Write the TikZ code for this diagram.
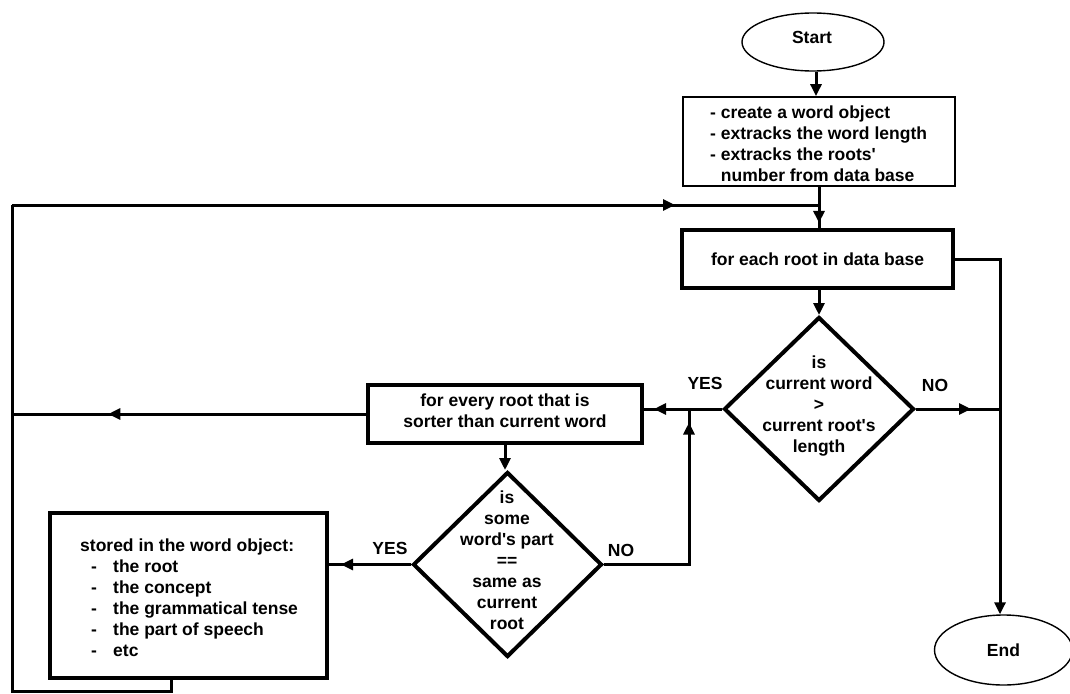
\documentclass[tikz,border=0pt]{standalone}
\usepackage{fontspec}
\setmainfont{Liberation Sans}
\usetikzlibrary{shapes.geometric,arrows.meta,decorations.markings}
\newcommand{\aps}{\textquotesingle}
\begin{document}
\begin{tikzpicture}[x=1pt,y=-1pt,
  every node/.style={font=\fontsize{17.5}{21}\selectfont\bfseries},
  thinbox/.style={draw,line width=1.8pt,inner sep=0pt},
  thickbox/.style={draw,line width=3.5pt,inner sep=0pt},
  term/.style={ellipse,draw,line width=1.4pt,inner sep=0pt},
  dia/.style={diamond,draw,line width=4pt,inner sep=0pt},
  conn/.style={line width=3pt},
  tip/.style={-{Triangle[length=12pt,width=11pt]}},
  midarr/.style={postaction={decorate},decoration={markings,mark=at position #1 with {\arrow{Triangle[length=12pt,width=11pt]}}}},
  lbl/.style={inner sep=0pt}
]
\useasboundingbox (0,0) rectangle (1070,693);

% nodes
\node[term,minimum width=142pt,minimum height=58pt] (start) at (813,42) {};
\node[lbl] (startlbl) at (812,37) {Start};
\node[thinbox,minimum width=272pt,minimum height=89pt] (init) at (819,141.5) {};
\node[lbl,align=left,anchor=west] (initlbl) at (710,143.5)
  {- create a word object\\- extracks the word length\\- extracks the roots\aps\\\hphantom{- }number from data base};
\node[thickbox,minimum width=271pt,minimum height=58pt] (each) at (817.5,259) {for each root in data base};
\node[dia,minimum width=190pt,minimum height=184pt] (d1) at (819,409) {};
\node[lbl,align=center] (d1lbl) at (819,406) {is\\current word\\>\\current root\aps s\\length};
\node[thickbox,minimum width=274pt,minimum height=58pt] (every) at (505,414) {};
\node[lbl,align=center] (everylbl) at (505,411) {for every root that is\\sorter than current word};
\node[dia,minimum width=189pt,minimum height=185pt] (d2) at (507.5,564.5) {};
\node[lbl,align=center] (d2lbl) at (507,560) {is\\some\\word\aps s part\\==\\same as\\current\\root};
\node[thickbox,minimum width=277pt,minimum height=165pt] (store) at (188.5,595.5) {};
\node[lbl,align=left,anchor=west] (storelbl) at (80,597.5)
  {stored in the word object:\\
   \hspace*{11pt}\makebox[22pt][l]{-}the root\\
   \hspace*{11pt}\makebox[22pt][l]{-}the concept\\
   \hspace*{11pt}\makebox[22pt][l]{-}the grammatical tense\\
   \hspace*{11pt}\makebox[22pt][l]{-}the part of speech\\
   \hspace*{11pt}\makebox[22pt][l]{-}etc};
\node[term,minimum width=138pt,minimum height=70pt] (endn) at (1003.5,650) {End};

\node[lbl] (yes1) at (705,383) {YES};
\node[lbl] (no1) at (935,385) {NO};
\node[lbl] (yes2) at (390,548) {YES};
\node[lbl] (no2) at (621,550) {NO};

% helper coordinates
\coordinate (lt) at (12,205);
\coordinate (lb) at (12,691.5);
\coordinate (rv) at (1000,257);
\coordinate (upj) at (689,409);

% connectors
\draw[conn,tip] ([xshift=3pt]start.south) -- ([xshift=3pt]start.south |- init.north);
\draw[conn,midarr=36pt] (init.south) -- (init.south |- each.north);
\draw[conn] ([xshift=-17.5pt]store.south) |- (lb) -- (lt);
\draw[conn,midarr=663pt] (lt) -- (lt -| init.south);
\draw[conn,tip] (each.south -| d1.north) -- (d1.north);
\draw[conn,tip] (each.east) -- (each.east -| rv) -- (rv |- endn.north);
\draw[conn,midarr=55pt] (d1.east) -- (d1.east -| rv);
\draw[conn,midarr=68pt] (d1.west) -- (d1.west -| every.east);
\draw[conn,midarr=258pt] (every.west) -- (every.west -| lt);
\draw[conn,tip] (every.south) -- (every.south |- d2.north);
\draw[conn,midarr=70pt] (d2.west) -- (d2.west -| store.east);
\draw[conn,midarr=227pt] (d2.east) -| (upj);
\end{tikzpicture}
\end{document}
